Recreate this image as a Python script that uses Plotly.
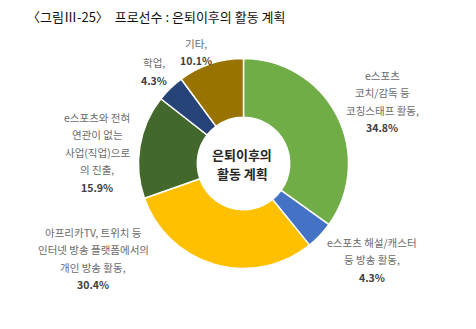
import plotly.graph_objects as go

W, H = 476, 329

# Survey categories (wrapped into display lines) and shares in percent
categories = [
    ["e스포츠", "코치/감독 등", "코칭스태프 활동,"],
    ["e스포츠 해설/캐스터", "등 방송 활동,"],
    ["아프리카TV, 트위치 등", "인터넷 방송 플랫폼에서의", "개인 방송 활동,"],
    ["e스포츠와 전혀", "연관이 없는", "사업(직업)으로", "의 진출,"],
    ["학업,"],
    ["기타,"],
]
shares = [34.8, 4.3, 30.4, 15.9, 4.3, 10.1]
colors = ["#70AD47", "#4472C4", "#FFC000", "#43682B", "#264478", "#997300"]

title_text = "〈그림Ⅲ-25〉  프로선수 : 은퇴이후의 활동 계획"
center_text = ["은퇴이후의", "활동 계획"]

FONT = "Noto Sans CJK KR"

# pixel helpers
def px(x):
    return x / W

def py(y):
    return 1 - y / H

cx, cy, r = 243.5, 163.5, 105

fig = go.Figure(
    go.Pie(
        labels=[" ".join(c) for c in categories],
        values=shares,
        sort=False,
        direction="clockwise",
        rotation=0,
        hole=0.44,
        marker=dict(colors=colors, line=dict(color="white", width=1.5)),
        textinfo="none",
        hoverinfo="label+value",
        domain=dict(x=[px(cx - r), px(cx + r)], y=[py(cy + r), py(cy - r)]),
        showlegend=False,
    )
)

# label anchor (center x, first line y) and line spacing in pixels
label_pos = [(382, 75), (372, 242), (93, 232), (97, 117), (154, 63), (196, 43)]
line_gap = 17.5

annotations = []
for lines, val, (lx, ly) in zip(categories, shares, label_pos):
    for i, t in enumerate(lines + [f"<b>{val}%</b>"]):
        is_pct = i == len(lines)
        annotations.append(
            dict(
                x=px(lx), y=py(ly + i * line_gap),
                xref="paper", yref="paper",
                text=t, showarrow=False,
                xanchor="center", yanchor="middle",
                font=dict(family=FONT, size=10.5,
                          color="#404040" if is_pct else "#6b6b6b"),
            )
        )

# caption inside the donut hole
for i, t in enumerate(center_text):
    annotations.append(
        dict(
            x=px(242), y=py(154 + i * 19.5),
            xref="paper", yref="paper",
            text=f"<b>{t}</b>", showarrow=False,
            xanchor="center", yanchor="middle",
            font=dict(family=FONT, size=13, color="#262626"),
        )
    )

annotations.append(
    dict(
        x=px(25), y=py(17),
        xref="paper", yref="paper",
        text=title_text, showarrow=False,
        xanchor="left", yanchor="middle",
        font=dict(family=FONT, size=13, color="#111111"),
    )
)

fig.update_layout(
    width=W, height=H,
    margin=dict(l=0, r=0, t=0, b=0),
    paper_bgcolor="white",
    plot_bgcolor="white",
    annotations=annotations,
)

fig.write_html("out.html")
